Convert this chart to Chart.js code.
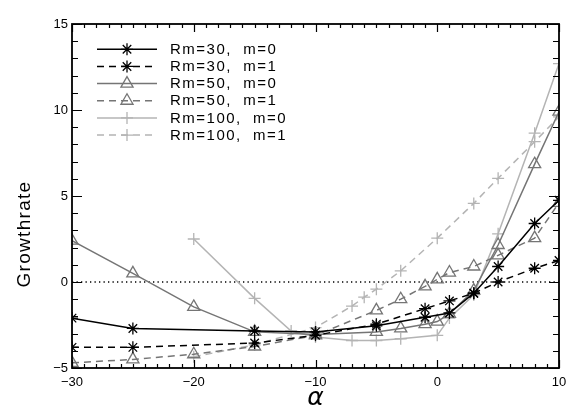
<!DOCTYPE html>
<html>
<head>
<meta charset="utf-8">
<script src="https://cdn.jsdelivr.net/npm/chart.js@4.4.0/dist/chart.umd.min.js"></script>
<style>
  html, body { margin: 0; padding: 0; background: #fff; }
  #wrap { width: 581px; height: 415px; }
</style>
</head>
<body>
<div id="wrap"><canvas id="c" width="581" height="415"></canvas></div>
<script>
// ---- data ----
const alphaRm30 = [-30, -25, -15, -10, -5, -1, 1, 3, 5, 8, 10];
const rm30m0 = [-2.1, -2.7, -2.85, -2.9, -2.55, -2.05, -1.8, -0.65, 0.9, 3.4, 4.75];
const rm30m1 = [-3.8, -3.8, -3.55, -3.1, -2.45, -1.55, -1.1, -0.65, 0.0, 0.8, 1.25];

const alphaRm50 = [-30, -25, -20, -15, -10, -5, -3, -1, 0, 1, 3, 5, 8, 10];
const rm50m0 = [2.4, 0.5, -1.45, -2.9, -3.05, -2.9, -2.7, -2.45, -2.3, -1.85, -0.5, 2.15, 6.85, 9.9];
const rm50m1 = [-4.7, -4.5, -4.2, -3.75, -3.1, -1.65, -1.0, -0.25, 0.15, 0.55, 0.9, 1.55, 2.55, 4.6];

const alphaRm100m0 = [-20, -15, -12, -10, -7, -5, -3, 0, 1, 3, 5, 8, 10];
const rm100m0 = [2.5, -0.95, -2.85, -3.2, -3.4, -3.4, -3.3, -3.1, -2.1, -0.75, 2.8, 8.65, 12.7];
const alphaRm100m1 = [-20, -15, -10, -7, -6, -5, -3, 0, 3, 5, 8, 10];
const rm100m1 = [-4.35, -3.65, -2.65, -1.4, -0.88, -0.42, 0.65, 2.55, 4.57, 6.03, 8.16, 9.6];

const seriesLabels = ['Rm=30,  m=0', 'Rm=30,  m=1', 'Rm=50,  m=0', 'Rm=50,  m=1', 'Rm=100,  m=0', 'Rm=100,  m=1'];
const xTickValues = [-30, -20, -10, 0, 10];
const yTickValues = [-5, 0, 5, 10, 15];
const xTitle = 'α';
const yTitle = 'Growthrate';

// ---- build datasets ----
function pts(xs, ys) { return xs.map((x, i) => ({ x: x, y: ys[i] })); }
const BLACK = '#000000', GRAY = '#757575', LIGHT = '#b4b4b4';
const DASH = [7, 5];
function ds(label, xs, ys, color, dashed, style, radius) {
  return {
    label: label, data: pts(xs, ys),
    borderColor: color, backgroundColor: 'rgba(0,0,0,0)',
    borderWidth: 1.5, borderDash: dashed ? DASH : [],
    pointStyle: style, pointRadius: radius, pointBorderWidth: 1.3,
    pointBorderColor: color, pointBackgroundColor: 'rgba(0,0,0,0)',
    tension: 0, clip: 0, isSeries: true
  };
}
const datasets = [
  ds(seriesLabels[0], alphaRm30, rm30m0, BLACK, false, 'star', 6),
  ds(seriesLabels[1], alphaRm30, rm30m1, BLACK, true, 'star', 6),
  ds(seriesLabels[2], alphaRm50, rm50m0, GRAY, false, 'triangle', 7),
  ds(seriesLabels[3], alphaRm50, rm50m1, GRAY, true, 'triangle', 7),
  ds(seriesLabels[4], alphaRm100m0, rm100m0, LIGHT, false, 'cross', 6),
  ds(seriesLabels[5], alphaRm100m1, rm100m1, LIGHT, true, 'cross', 6),
  {
    label: 'zero', data: [{ x: -30, y: 0 }, { x: 10, y: 0 }],
    borderColor: BLACK, borderWidth: 1.3, borderDash: [1.3, 3.2],
    pointRadius: 0, clip: 0, isSeries: false
  }
];

// ---- custom frame / ticks / titles / legend ----
const framePlugin = {
  id: 'idlFrame',
  afterDatasetsDraw(chart) {
    const ctx = chart.ctx, a = chart.chartArea;
    const xs = chart.scales.x, ys = chart.scales.y;
    ctx.save();
    ctx.strokeStyle = '#000';
    ctx.lineWidth = 1.8;
    ctx.strokeRect(a.left, a.top, a.right - a.left, a.bottom - a.top);
    ctx.lineWidth = 1.2;
    ctx.beginPath();
    for (let v = xs.min; v <= xs.max; v += 1) {
      const px = Math.round(xs.getPixelForValue(v)) + 0.5;
      const len = (v % 10 === 0) ? 8 : 4;
      ctx.moveTo(px, a.bottom); ctx.lineTo(px, a.bottom - len);
      ctx.moveTo(px, a.top); ctx.lineTo(px, a.top + len);
    }
    for (let v = ys.min; v <= ys.max; v += 1) {
      const py = Math.round(ys.getPixelForValue(v)) + 0.5;
      const len = (v % 5 === 0) ? 10 : 6;
      ctx.moveTo(a.left, py); ctx.lineTo(a.left + len, py);
      ctx.moveTo(a.right, py); ctx.lineTo(a.right - len, py);
    }
    ctx.stroke();
    ctx.restore();
  },
  afterDraw(chart) {
    const ctx = chart.ctx, a = chart.chartArea;
    ctx.save();
    ctx.fillStyle = '#000';
    // y title
    ctx.save();
    ctx.translate(25, 234);
    ctx.rotate(-Math.PI / 2);
    ctx.font = '19px "Liberation Sans", Arial, sans-serif';
    try { ctx.letterSpacing = '1.3px'; } catch (e) {}
    ctx.textAlign = 'center';
    ctx.textBaseline = 'middle';
    ctx.fillText(yTitle, 0, 0);
    ctx.restore();
    // x title
    ctx.font = 'italic 25px "DejaVu Sans", sans-serif';
    ctx.textAlign = 'center';
    ctx.textBaseline = 'middle';
    ctx.fillText(xTitle, (a.left + a.right) / 2, 398);
    // legend
    const x0 = 97, x1 = 157, xm = 127, tx = 170;
    let row = 0;
    chart.data.datasets.forEach((d) => {
      if (!d.isSeries) return;
      const y = 49.3 + row * 17.15;
      ctx.save();
      ctx.strokeStyle = d.borderColor;
      ctx.lineWidth = d.borderWidth;
      ctx.setLineDash(d.borderDash || []);
      ctx.beginPath();
      ctx.moveTo(x0, y); ctx.lineTo(x1, y);
      ctx.stroke();
      ctx.setLineDash([]);
      // clear behind marker like IDL (marker overlays line)
      ctx.fillStyle = 'rgba(0,0,0,0)';
      ctx.strokeStyle = d.pointBorderColor;
      ctx.lineWidth = d.pointBorderWidth;
      Chart.helpers.drawPoint(ctx, {
        pointStyle: d.pointStyle, radius: d.pointRadius,
        borderWidth: d.pointBorderWidth, rotation: 0
      }, xm, y);
      ctx.restore();
      ctx.save();
      ctx.fillStyle = '#000';
      ctx.font = '15px "Liberation Sans", Arial, sans-serif';
      try { ctx.letterSpacing = '1.5px'; } catch (e) {}
      ctx.textAlign = 'left';
      ctx.textBaseline = 'middle';
      ctx.fillText(d.label, tx, y + 0.5);
      ctx.restore();
      row++;
    });
    ctx.restore();
  }
};

const fmt = (v) => String(v).replace('-', '\u2212');

new Chart(document.getElementById('c'), {
  type: 'line',
  data: { datasets: datasets },
  plugins: [framePlugin],
  options: {
    responsive: false,
    animation: false,
    devicePixelRatio: 1,
    layout: { padding: { left: 0, right: 22, top: 24, bottom: 0 } },
    plugins: { legend: { display: false }, tooltip: { enabled: false }, title: { display: false } },
    scales: {
      x: {
        type: 'linear', min: -30, max: 10,
        afterBuildTicks: (s) => { s.ticks = xTickValues.map(v => ({ value: v })); },
        afterFit: (s) => { s.height = 47; },
        grid: { display: false, drawTicks: false },
        border: { display: false },
        ticks: { padding: 7, color: '#000', font: { size: 13, family: '"Liberation Sans", Arial, sans-serif' }, callback: fmt, maxRotation: 0 }
      },
      y: {
        type: 'linear', min: -5, max: 15,
        afterBuildTicks: (s) => { s.ticks = yTickValues.map(v => ({ value: v })); },
        afterFit: (s) => { s.width = 72; },
        grid: { display: false, drawTicks: false },
        border: { display: false },
        ticks: { padding: 4, color: '#000', font: { size: 13, family: '"Liberation Sans", Arial, sans-serif' }, callback: fmt }
      }
    }
  }
});
</script>
</body>
</html>
